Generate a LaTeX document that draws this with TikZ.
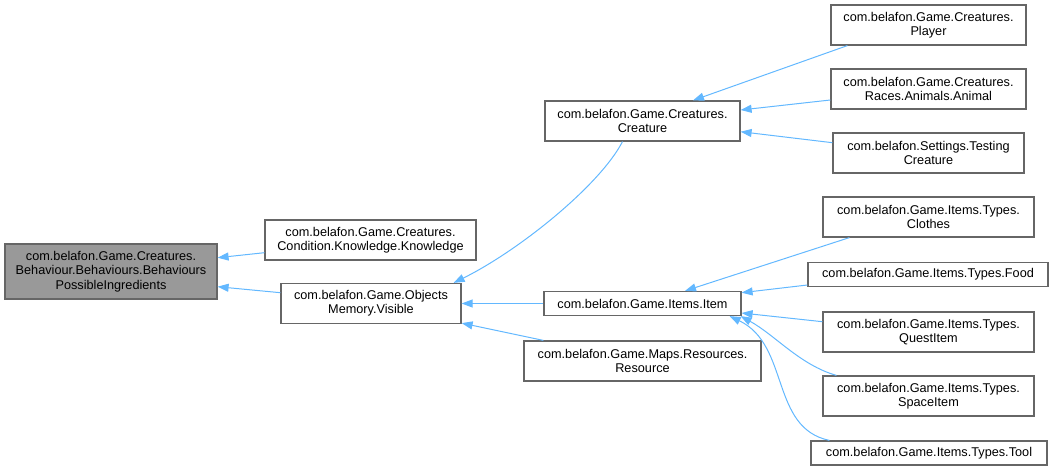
\documentclass[tikz,border=0pt]{standalone}
\usepackage{fontspec}
\setmainfont{Liberation Sans}
\usetikzlibrary{arrows.meta, positioning}
\usepackage{xcolor}
\definecolor{edgeblue}{HTML}{63B8FF}
\definecolor{boxgray}{HTML}{666666}
\definecolor{rootgray}{HTML}{999999}

\begin{document}
\begin{tikzpicture}[
    x=1pt, y=-1pt,
    klass/.style={rectangle, draw=boxgray, line width=1.2pt, fill=white,
                  inner sep=0pt, align=center, minimum height=40pt,
                  font=\fontsize{12.7}{14.4}\selectfont},
    single/.style={klass, minimum height=24pt},
    inherit/.style={{Triangle[length=11pt,width=8pt]}-, draw=edgeblue,
                    line width=1pt}
]
\useasboundingbox (0,0) rectangle (1053,471);

% Classes
\node[klass, fill=rootgray, minimum width=212pt, minimum height=55pt] (Root) at (111,271.5)
    {com.belafon.Game.Creatures.\\Behaviour.Behaviours.Behaviours\\PossibleIngredients};
\node[klass, minimum width=211pt] (Knowledge) at (370.5,240)
    {com.belafon.Game.Creatures.\\Condition.Knowledge.Knowledge};
\node[klass, minimum width=180pt] (Visible) at (371,303.5)
    {com.belafon.Game.Objects\\Memory.Visible};
\node[klass, minimum width=195pt] (Creature) at (642.5,121)
    {com.belafon.Game.Creatures.\\Creature};
\node[single, minimum width=197pt] (Item) at (642.5,303.5)
    {com.belafon.Game.Items.Item};
\node[klass, minimum width=237pt] (Resource) at (642.5,361)
    {com.belafon.Game.Maps.Resources.\\Resource};
\node[klass, minimum width=195pt] (Player) at (928.5,25)
    {com.belafon.Game.Creatures.\\Player};
\node[klass, minimum width=195pt] (Animal) at (928.5,89)
    {com.belafon.Game.Creatures.\\Races.Animals.Animal};
\node[klass, minimum width=191pt] (Testing) at (928.5,153)
    {com.belafon.Settings.Testing\\Creature};
\node[klass, minimum width=211pt] (Clothes) at (928.5,217)
    {com.belafon.Game.Items.Types.\\Clothes};
\node[single, minimum width=240pt] (Food) at (928,274.5)
    {com.belafon.Game.Items.Types.Food};
\node[klass, minimum width=211pt] (QuestItem) at (928.5,332)
    {com.belafon.Game.Items.Types.\\QuestItem};
\node[klass, minimum width=211pt] (SpaceItem) at (928.5,396)
    {com.belafon.Game.Items.Types.\\SpaceItem};
\node[single, minimum width=236pt] (Tool) at (929,453)
    {com.belafon.Game.Items.Types.Tool};

% Inheritance
\draw[inherit] ([yshift=13.8pt]Root.east) -- ([yshift=-12.7pt]Knowledge.west);
\draw[inherit] ([yshift=-15.2pt]Root.east) -- ([yshift=10.8pt]Visible.west);
\draw[inherit] ([xshift=-8pt]Visible.north east)
    .. controls (520,250) and (600,185) .. ([xshift=-20pt]Creature.south);
\draw[inherit] (Visible.east) -- (Item.west);
\draw[inherit] ([yshift=1pt]Visible.south east) -- ([xshift=20pt]Resource.north west);
\draw[inherit] ([xshift=50.5pt]Creature.north) -- ([xshift=17pt]Player.south west);
\draw[inherit] ([yshift=11pt]Creature.east) -- ([yshift=-11pt]Animal.west);
\draw[inherit] ([yshift=-10.7pt]Creature.east) -- ([yshift=10.3pt]Testing.west);
\draw[inherit] ([xshift=42.5pt]Item.north) -- ([xshift=27pt]Clothes.south west);
\draw[inherit] ([yshift=10.8pt]Item.east) -- ([yshift=-10.5pt]Food.west);
\draw[inherit] ([yshift=-9.5pt]Item.east) -- ([yshift=10.3pt]QuestItem.west);
\draw[inherit] ([xshift=-1pt]Item.south east)
    .. controls (775,335) and (800,365) .. ([xshift=14pt]SpaceItem.north west);
\draw[inherit] ([xshift=-12pt]Item.south east)
    .. controls (790,345) and (770,428) .. ([xshift=19pt]Tool.north west);
\end{tikzpicture}
\end{document}
